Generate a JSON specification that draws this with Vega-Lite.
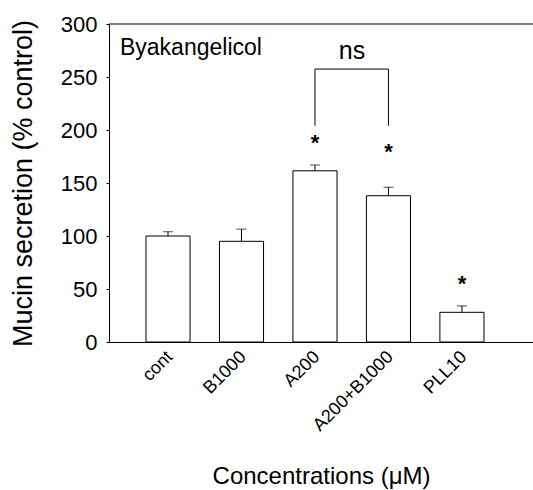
{
  "$schema": "https://vega.github.io/schema/vega-lite/v6.json",
  "width": 424,
  "height": 318,
  "autosize": {"type": "none"},
  "padding": {"left": 109, "top": 24, "right": 0, "bottom": 148},
  "background": "white",
  "config": {
    "view": {"stroke": null},
    "font": "Liberation Sans",
    "axis": {
      "grid": false,
      "domainColor": "black",
      "tickColor": "black",
      "labelColor": "black",
      "titleColor": "black",
      "labelFont": "Liberation Sans",
      "titleFont": "Liberation Sans",
      "titleFontWeight": "normal"
    }
  },
  "datasets": {
    "bars": [
      {"group": "cont", "mean": 100, "upper": 104},
      {"group": "B1000", "mean": 95, "upper": 106.5},
      {"group": "A200", "mean": 161.5, "upper": 167},
      {"group": "A200+B1000", "mean": 138, "upper": 146},
      {"group": "PLL10", "mean": 28, "upper": 34}
    ],
    "stars": [
      {"group": "A200", "y": 181},
      {"group": "A200+B1000", "y": 172.5},
      {"group": "PLL10", "y": 48}
    ],
    "bracketV": [
      {"group": "A200", "low": 204, "high": 257.5},
      {"group": "A200+B1000", "low": 204, "high": 257.5}
    ],
    "bracketH": [
      {"from": "A200", "to": "A200+B1000", "y": 257.5}
    ],
    "labels": [
      {"group": "A200", "y": 267.3, "text": "ns"}
    ],
    "title": [
      {"group": "cont", "y": 271, "text": "Byakangelicol"}
    ]
  },
  "layer": [
    {
      "data": {"name": "bars"},
      "mark": {"type": "bar", "fill": "white", "stroke": "black", "strokeWidth": 1},
      "encoding": {
        "x": {
          "field": "group",
          "type": "nominal",
          "sort": null,
          "scale": {
            "domain": ["cont", "B1000", "A200", "A200+B1000", "PLL10"],
            "paddingInner": 0.4,
            "paddingOuter": 0.585,
            "align": 0.43
          },
          "axis": {
            "title": "Concentrations (μM)",
            "titleFontSize": 24,
            "titlePadding": 30,
            "labelAngle": -45,
            "labelAlign": "right",
            "labelBaseline": "middle",
            "labelFontSize": 18,
            "labelPadding": 12,
            "labelOffset": 2,
            "ticks": false
          }
        },
        "y": {
          "field": "mean",
          "type": "quantitative",
          "scale": {"domain": [0, 300], "nice": false},
          "axis": {
            "title": "Mucin secretion (% control)",
            "titleFontSize": 27,
            "titlePadding": 23,
            "values": [0, 50, 100, 150, 200, 250, 300],
            "tickSize": 3,
            "labelPadding": 9,
            "labelFontSize": 22
          }
        }
      }
    },
    {
      "data": {"name": "bars"},
      "mark": {"type": "rule", "color": "black", "strokeWidth": 1},
      "encoding": {
        "x": {"field": "group", "type": "nominal", "bandPosition": 0.5},
        "y": {"field": "mean", "type": "quantitative"},
        "y2": {"field": "upper"}
      }
    },
    {
      "data": {"name": "bars"},
      "mark": {"type": "tick", "color": "black", "size": 10, "thickness": 1},
      "encoding": {
        "x": {"field": "group", "type": "nominal"},
        "y": {"field": "upper", "type": "quantitative"}
      }
    },
    {
      "data": {"name": "stars"},
      "mark": {"type": "text", "text": "*", "fontSize": 22, "fontWeight": "bold", "baseline": "alphabetic", "align": "center", "color": "black"},
      "encoding": {
        "x": {"field": "group", "type": "nominal", "bandPosition": 0.5},
        "y": {"field": "y", "type": "quantitative"}
      }
    },
    {
      "data": {"name": "bracketV"},
      "mark": {"type": "rule", "color": "black", "strokeWidth": 1},
      "encoding": {
        "x": {"field": "group", "type": "nominal", "bandPosition": 0.5},
        "y": {"field": "low", "type": "quantitative"},
        "y2": {"field": "high"}
      }
    },
    {
      "data": {"name": "bracketH"},
      "mark": {"type": "rule", "color": "black", "strokeWidth": 1},
      "encoding": {
        "x": {"field": "from", "type": "nominal", "bandPosition": 0.5},
        "x2": {"field": "to", "bandPosition": 0.5},
        "y": {"field": "y", "type": "quantitative"}
      }
    },
    {
      "data": {"name": "labels"},
      "mark": {"type": "text", "fontSize": 25, "baseline": "alphabetic", "align": "center", "dx": 37, "color": "black"},
      "encoding": {
        "x": {"field": "group", "type": "nominal", "bandPosition": 0.5},
        "y": {"field": "y", "type": "quantitative"},
        "text": {"field": "text"}
      }
    },
    {
      "data": {"name": "title"},
      "mark": {"type": "text", "fontSize": 23, "baseline": "alphabetic", "align": "left", "dx": -26, "color": "black"},
      "encoding": {
        "x": {"field": "group", "type": "nominal", "bandPosition": 0},
        "y": {"field": "y", "type": "quantitative"},
        "text": {"field": "text"}
      }
    },
    {
      "data": {"values": [{"v": 300}]},
      "mark": {"type": "rule", "color": "black", "strokeWidth": 1},
      "encoding": {
        "y": {"field": "v", "type": "quantitative"}
      }
    }
  ]
}
